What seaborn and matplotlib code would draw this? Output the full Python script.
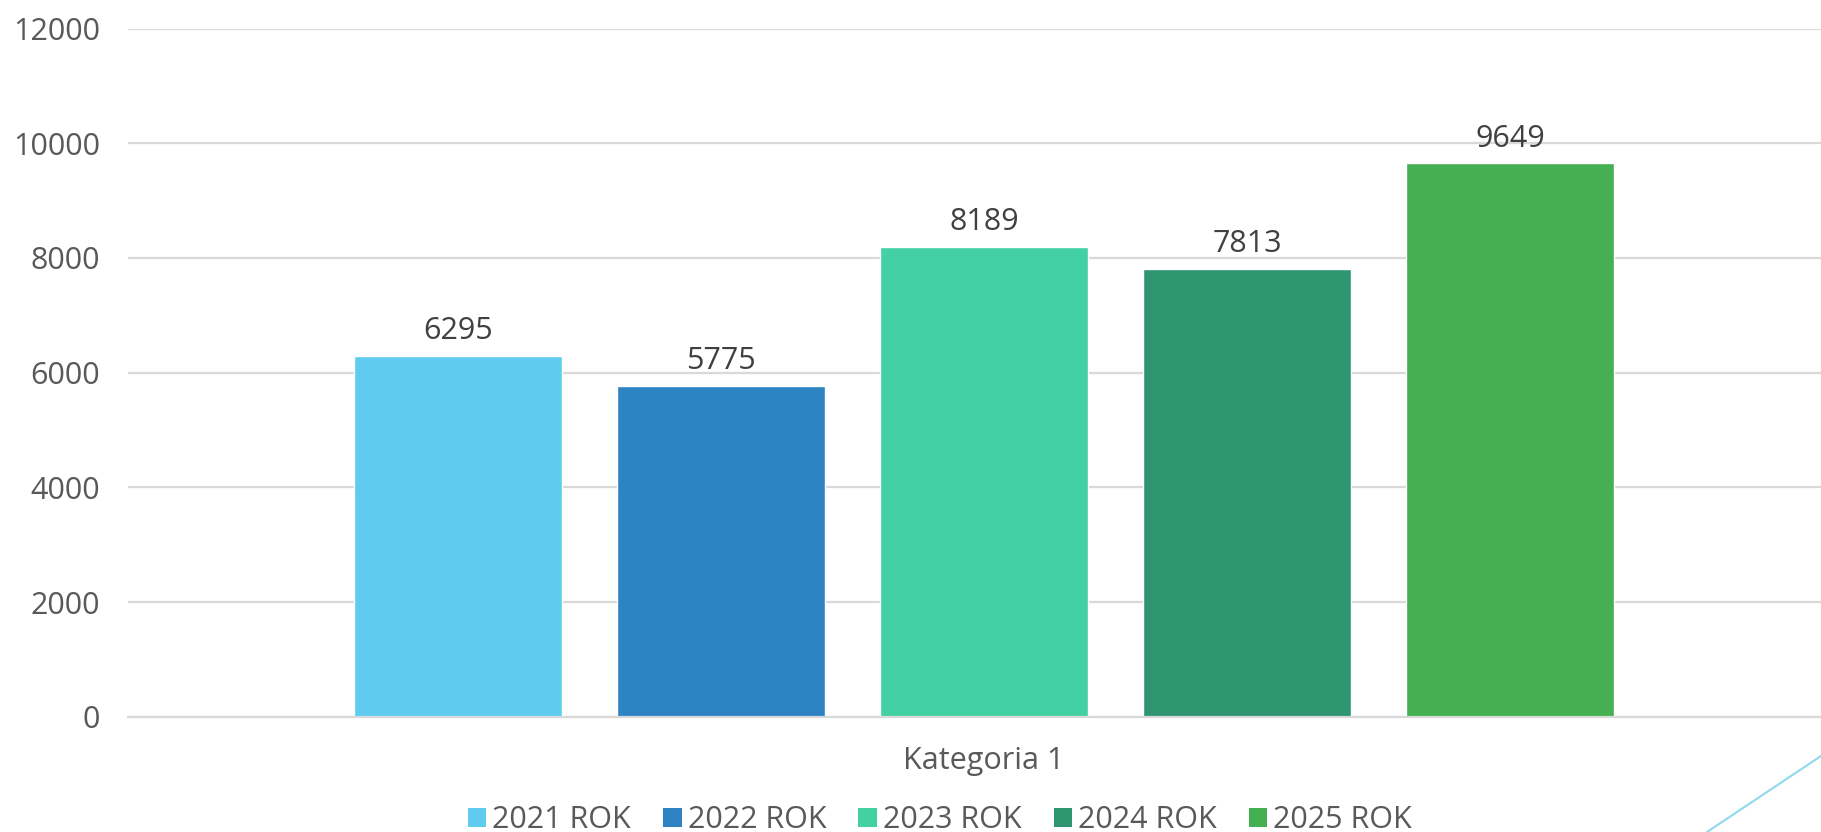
import matplotlib
matplotlib.use("Agg")
import matplotlib.pyplot as plt
import seaborn as sns
import pandas as pd
from matplotlib.lines import Line2D
from matplotlib.patches import Patch

categories = ["Kategoria 1"]
years = ["2021 ROK", "2022 ROK", "2023 ROK", "2024 ROK", "2025 ROK"]
values = [6295, 5775, 8189, 7813, 9649]
colors = ["#5FCBEF", "#2E83C3", "#43D0A2", "#2E9570", "#44B052"]
y_ticks = [0, 2000, 4000, 6000, 8000, 10000, 12000]

sns.set_theme(style="white")
plt.rcParams["font.family"] = ["Open Sans", "DejaVu Sans"]

df = pd.DataFrame({"kategoria": categories * len(years), "rok": years, "wartosc": values})

fig = plt.figure(figsize=(18.21, 8.32), dpi=100)
ax = fig.add_axes([128 / 1821, 1 - 716.7 / 832, 1 - 128 / 1821, (716.7 - 28.6) / 832])

sns.barplot(data=df, x="kategoria", y="wartosc", hue="rok", palette=colors,
            width=0.777, gap=0.21, dodge=True, ax=ax, legend=False,
            saturation=1, errorbar=None)

ax.set_ylim(0, 12000)
ax.set_xlim(-0.5056, 0.4944)
ax.set_yticks(y_ticks)
ax.set_yticklabels([str(t) for t in y_ticks])
ax.yaxis.grid(True, color="#D9D9D9", linewidth=1.6)
ax.set_axisbelow(True)
for s in ["top", "right", "left"]:
    ax.spines[s].set_visible(False)
ax.spines["bottom"].set_color("#D9D9D9")
ax.spines["bottom"].set_linewidth(1.6)
ax.tick_params(axis="y", length=0, pad=20, labelsize=22, labelcolor="#595959")
ax.tick_params(axis="x", length=0, pad=21, labelsize=22, labelcolor="#595959")
ax.set_xlabel("")
ax.set_ylabel("")

for cont in ax.containers:
    ax.bar_label(cont, fmt="%d", padding=7, fontsize=22, color="#404040")

handles = [Patch(facecolor=c, edgecolor="none") for c in colors]
ax.legend(handles, years, loc="center", bbox_to_anchor=(940 / 1821, 1 - 820 / 832),
          bbox_transform=fig.transFigure, ncol=5, frameon=False, fontsize=22,
          handlelength=0.6, handleheight=0.6, handletextpad=0.2, columnspacing=1.05,
          labelcolor="#595959")

fig.add_artist(Line2D([1707 / 1821, 1.0], [0.0, 1 - 756 / 832], transform=fig.transFigure,
                      color="#8ED8F0", linewidth=1.5))

fig.savefig("out.png", dpi=100)
